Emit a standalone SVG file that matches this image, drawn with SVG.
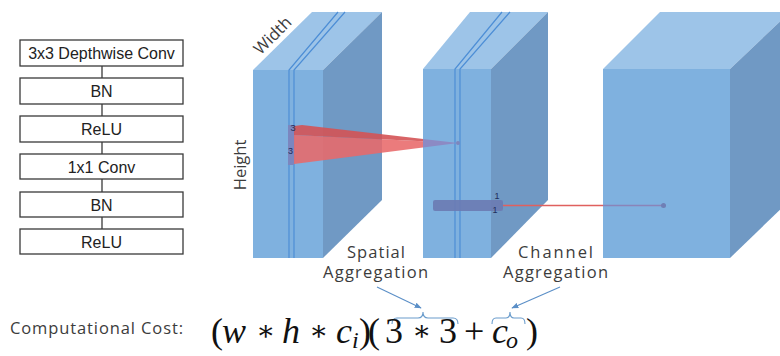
<svg xmlns="http://www.w3.org/2000/svg" width="780" height="356" viewBox="0 0 780 356">
<defs>
<style>
.box{fill:#fff;stroke:#3a3a3a;stroke-width:1.3}
.btxt{font-family:"Liberation Sans",Arial,sans-serif;font-size:16px;fill:#222;text-anchor:middle}
.link{stroke:#3a3a3a;stroke-width:1.3;fill:none}
.front{fill:#7fb1df}
.top{fill:#9dc4e8}
.side{fill:#7099c4}
.slab{stroke:#4d8ed6;stroke-width:1.2;fill:none}
.lbl{font-family:"Open Sans","DejaVu Sans",sans-serif;font-size:16.5px;fill:#3c3c3c}
.tiny{font-family:"Liberation Sans",Arial,sans-serif;font-size:9px;fill:#1f2d5c}
.arr{stroke:#5b8fc7;stroke-width:1.1;fill:none}
.brace{stroke:#6a9ccc;stroke-width:1.1;fill:none}
.math{font-family:"Liberation Serif","DejaVu Serif","Times New Roman",serif;font-size:36px;fill:#111}
.op{font-size:28px}
</style>
<marker id="ah" viewBox="0 0 10 10" refX="9" refY="5" markerWidth="7" markerHeight="7" orient="auto" markerUnits="userSpaceOnUse">
<path d="M0,1 L10,5 L0,9 z" fill="#5b8fc7"/>
</marker>
</defs>
<rect width="780" height="356" fill="#fff"/>

<!-- left flow -->
<g id="connectors-flow">
<line class="link" x1="102" y1="66" x2="102" y2="78"/>
<line class="link" x1="102" y1="104" x2="102" y2="116"/>
<line class="link" x1="102" y1="142" x2="102" y2="154"/>
<line class="link" x1="102" y1="179" x2="102" y2="192"/>
<line class="link" x1="102" y1="217" x2="102" y2="229"/>
</g>
<g id="n-dwconv"><rect class="box" x="20" y="40" width="163" height="26"/><text class="btxt" x="101.5" y="59">3x3 Depthwise Conv</text></g>
<g id="n-bn1"><rect class="box" x="20" y="78" width="163" height="26"/><text class="btxt" x="101.5" y="97">BN</text></g>
<g id="n-relu1"><rect class="box" x="20" y="116" width="163" height="26"/><text class="btxt" x="101.5" y="135">ReLU</text></g>
<g id="n-pwconv"><rect class="box" x="20" y="154" width="163" height="25"/><text class="btxt" x="101.5" y="172.5">1x1 Conv</text></g>
<g id="n-bn2"><rect class="box" x="20" y="192" width="163" height="25"/><text class="btxt" x="101.5" y="210.5">BN</text></g>
<g id="n-relu2"><rect class="box" x="20" y="229" width="163" height="25"/><text class="btxt" x="101.5" y="247.5">ReLU</text></g>

<!-- cube 1 -->
<g id="cube1">
<polygon class="top" points="253,70 312,12 382,12 323,70"/>
<polygon class="side" points="323,70 382,12 382,200 323,258"/>
<rect class="front" x="253" y="70" width="70" height="188"/>
<path class="slab" d="M289,258 V70 L338,12 M294,258 V70 L345,12"/>
<rect x="288" y="125" width="6" height="40" fill="#7b86bf"/>
<text class="lbl" transform="translate(273,36) rotate(-45)" text-anchor="middle" y="5" font-size="16">Width</text>
<text class="lbl" transform="translate(246,165) rotate(-90)" text-anchor="middle" font-size="16">Height</text>
</g>

<!-- wedge -->
<g id="wedge">
<polygon points="294,135 458,143 294,164" fill="#e8696a" opacity="0.88"/>
<polygon points="294,126 302,125 458,143 294,135" fill="#d45355" opacity="0.9"/>
</g>

<!-- cube 2 -->
<g id="cube2">
<polygon class="top" points="423,69 470,12 548,12 491,69"/>
<polygon class="side" points="491,69 548,12 548,200 491,258"/>
<rect class="front" x="423" y="69" width="68" height="189"/>
<path class="slab" d="M455,258 V69 L502,12 M460,258 V69 L510,12"/>
<polygon points="423,139 458,143 423,147.5" fill="#8c8ac4"/>
<circle cx="458" cy="143" r="2" fill="#7d86bd"/>
</g>

<!-- cube 3 -->
<g id="cube3">
<polygon class="top" points="603,69 660,12 790,12 730,69"/>
<polygon class="side" points="730,69 790,12 790,200 730,258"/>
<rect class="front" x="603" y="69" width="127" height="189"/>
</g>

<!-- channel bar -->
<g id="bar">
<line x1="503" y1="205.5" x2="603" y2="205.5" stroke="#e0605e" stroke-width="1.4"/>
<line x1="603" y1="205.5" x2="663" y2="205.5" stroke="#8a84b8" stroke-width="1.4"/>
<circle cx="663.5" cy="205.5" r="2.5" fill="#6f7fb5"/>
<rect x="433" y="200" width="70" height="11" rx="2" fill="#6c7bb2" opacity="0.9"/>
</g>

<g id="labels">
<text class="tiny" x="293" y="131" text-anchor="middle">3</text>
<text class="tiny" x="290.5" y="154" text-anchor="middle">3</text>
<text class="tiny" x="497" y="199" text-anchor="middle">1</text>
<text class="tiny" x="495" y="213" text-anchor="middle">1</text>
<text class="lbl" x="376" y="258" text-anchor="middle" textLength="58">Spatial</text>
<text class="lbl" x="375.5" y="278" text-anchor="middle" textLength="105">Aggregation</text>
<text class="lbl" x="555.5" y="258" text-anchor="middle" textLength="75">Channel</text>
<text class="lbl" x="555.5" y="278" text-anchor="middle" textLength="105">Aggregation</text>
<text class="lbl" x="10" y="334" font-size="19" textLength="173">Computational Cost:</text>
</g>

<g id="connectors">
<line class="arr" x1="377" y1="287" x2="421" y2="308" marker-end="url(#ah)"/>
<line class="arr" x1="560" y1="287" x2="512" y2="308" marker-end="url(#ah)"/>
<path class="brace" d="M392,324 Q392,318 397,318 L418,318 Q423,318 423,312 Q423,318 428,318 L453,318 Q458,318 458,324"/>
<path class="brace" d="M492,324 Q492,318 496,318 L506,318 Q510,318 510,312 Q510,318 514,318 L521,318 Q525,318 525,324"/>
</g>

<text class="math" y="343"><tspan x="211">(</tspan><tspan x="222" font-style="italic">w</tspan><tspan class="op" x="256" y="340">∗</tspan><tspan x="282" y="343" font-style="italic">h</tspan><tspan class="op" x="309" y="340">∗</tspan><tspan x="336" y="343" font-style="italic">c</tspan><tspan x="352" y="348" font-size="24" font-style="italic">i</tspan><tspan x="359" y="343">)</tspan><tspan x="368">(</tspan><tspan x="385">3</tspan><tspan class="op" x="412" y="340">∗</tspan><tspan x="439" y="343">3</tspan><tspan x="464">+</tspan><tspan x="492" font-style="italic">c</tspan><tspan x="506" y="348" font-size="24" font-style="italic">o</tspan><tspan x="526" y="343">)</tspan></text>
</svg>
